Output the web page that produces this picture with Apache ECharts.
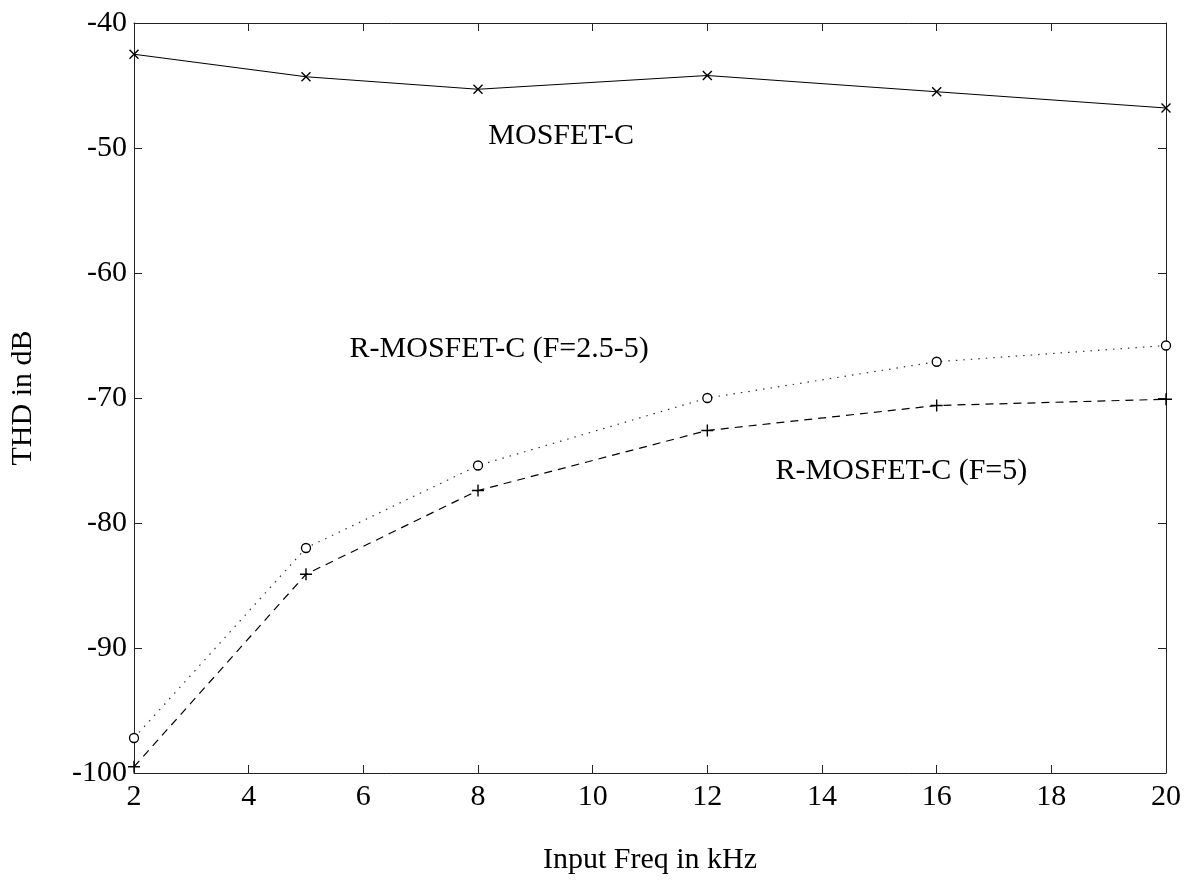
<!DOCTYPE html>
<html>
<head>
<meta charset="utf-8">
<script src="https://cdn.jsdelivr.net/npm/echarts@6/dist/echarts.min.js"></script>
<style>
  html, body { margin: 0; padding: 0; background: #fff; }
  #chart { width: 1185px; height: 880px; }
</style>
</head>
<body>
<div id="chart"></div>
<script>
// Input frequency (kHz) at which THD was measured
const freqs = [2, 5, 8, 12, 16, 20];

// THD (dB) for each filter variant
const thdMosfetC = [-42.5, -44.3, -45.3, -44.2, -45.5, -46.8];
const thdRMosfetC25to5 = [-97.2, -82.0, -75.4, -70.0, -67.1, -65.8];
const thdRMosfetC5 = [-99.5, -84.1, -77.4, -72.6, -70.6, -70.1];

// Axis ranges and ticks
const xTicks = { min: 2, max: 20, step: 2 };
const yTicks = { min: -100, max: -40, step: 10 };

// Curve annotations: text plus anchor in data units (left edge, vertical middle)
const notes = [
  { text: 'MOSFET-C', x: 8.18, y: -49.05 },
  { text: 'R-MOSFET-C (F=2.5-5)', x: 5.76, y: -66.1 },
  { text: 'R-MOSFET-C (F=5)', x: 13.19, y: -75.85 }
];

const FONT = 'Liberation Serif, Times New Roman, serif';
const INK = '#000';

const pairs = ys => freqs.map((f, i) => [f, ys[i]]);

const xMarker = 'path://M0,0L10,10M10,0L0,10';
const plusMarker = 'path://M5,0L5,10M0,5L10,5';

const axisCommon = {
  axisLine: { show: true, lineStyle: { color: '#222', width: 1 } },
  axisTick: { show: true, inside: true, length: 8, lineStyle: { color: '#222', width: 1 } },
  splitLine: { show: false }
};

const chart = echarts.init(document.getElementById('chart'), null, { renderer: 'canvas' });

chart.setOption({
  animation: false,
  backgroundColor: '#fff',
  grid: { left: 132, right: 19, top: 23, bottom: 107, containLabel: false },
  xAxis: [
    Object.assign({}, axisCommon, {
      type: 'value', position: 'bottom',
      min: xTicks.min, max: xTicks.max, interval: xTicks.step,
      name: 'Input Freq in kHz', nameLocation: 'middle', nameGap: 72,
      nameTextStyle: { fontFamily: FONT, fontSize: 30, color: INK },
      axisLabel: { fontFamily: FONT, fontSize: 30, color: INK, margin: 9 }
    }),
    Object.assign({}, axisCommon, {
      type: 'value', position: 'top',
      min: xTicks.min, max: xTicks.max, interval: xTicks.step,
      axisLabel: { show: false }
    })
  ],
  yAxis: [
    Object.assign({}, axisCommon, {
      type: 'value', position: 'left',
      min: yTicks.min, max: yTicks.max, interval: yTicks.step,
      name: 'THD in dB', nameLocation: 'middle', nameGap: 96, nameRotate: 90,
      nameTextStyle: { fontFamily: FONT, fontSize: 30, color: INK },
      axisLabel: { fontFamily: FONT, fontSize: 30, color: INK, margin: 7 }
    }),
    Object.assign({}, axisCommon, {
      type: 'value', position: 'right',
      min: yTicks.min, max: yTicks.max, interval: yTicks.step,
      axisLabel: { show: false }
    })
  ],
  series: [
    {
      name: 'MOSFET-C', type: 'line', data: pairs(thdMosfetC),
      symbol: xMarker, symbolSize: 9, showAllSymbol: true,
      lineStyle: { color: INK, width: 1.2, type: 'solid' },
      itemStyle: { color: 'none', borderColor: INK, borderWidth: 1.4 },
      z: 3
    },
    {
      name: 'R-MOSFET-C (F=2.5-5)', type: 'line', data: pairs(thdRMosfetC25to5),
      symbol: 'circle', symbolSize: 9, showAllSymbol: true,
      lineStyle: { color: '#333', width: 1.2, type: [1.5, 6] },
      itemStyle: { color: '#fff', borderColor: INK, borderWidth: 1.3 },
      z: 3
    },
    {
      name: 'R-MOSFET-C (F=5)', type: 'line', data: pairs(thdRMosfetC5),
      symbol: plusMarker, symbolSize: 12, showAllSymbol: true,
      lineStyle: { color: INK, width: 1.2, type: [8, 6] },
      itemStyle: { color: 'none', borderColor: INK, borderWidth: 1.4 },
      z: 3
    }
  ]
});

// Place the curve annotations using the chart's own coordinate conversion
const graphics = notes.map(n => {
  const p = chart.convertToPixel({ xAxisIndex: 0, yAxisIndex: 0 }, [n.x, n.y]);
  return {
    type: 'text', x: p[0], y: p[1], z: 10,
    style: { text: n.text, fill: INK, font: '30px ' + FONT, textAlign: 'left', textVerticalAlign: 'middle' }
  };
});
chart.setOption({ graphic: graphics });
</script>
</body>
</html>
